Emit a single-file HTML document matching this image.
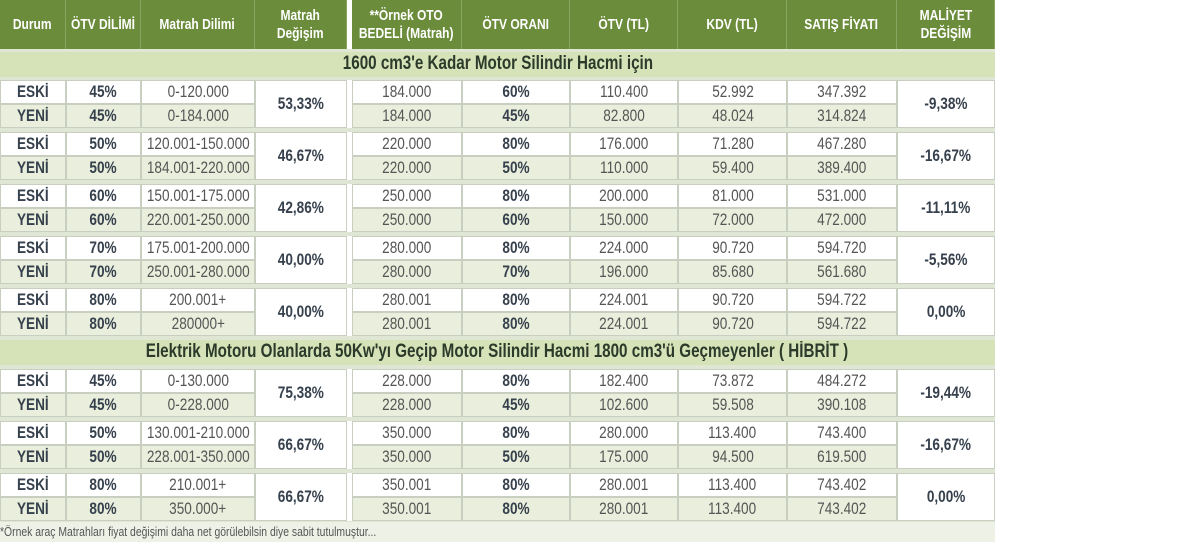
<!DOCTYPE html>
<html><head><meta charset="utf-8"><style>
body{margin:0;width:1200px;height:542px;background:#fff;position:relative;overflow:hidden;font-family:"Liberation Sans",sans-serif;}
.c{position:absolute;display:flex;align-items:center;justify-content:center;box-sizing:border-box;text-align:center;line-height:1.2;white-space:nowrap;}
.c span{display:inline-block;transform:scaleX(0.8);}
.h{background:#6b8c3b;color:#fff;font-weight:bold;font-size:15px;border-right:1px solid #8aa65e;}
.s{background:#d6e3b8;color:#2b3a2a;font-weight:bold;font-size:19px;}
.w{background:#fff;border:1px solid #c8cfc0;}
.g{background:#e9efdc;border:1px solid #c8cfc0;}
.b{font-weight:bold;color:#36414d;font-size:17px;}
.n{color:#555;font-size:17px;}
</style></head><body>
<div id="t" style="position:absolute;left:0;top:0;width:995px;height:542px;background:#dfe6d3"></div>
<script>
var X=[0,66,141,255,347,352,462,570,678,787,897,995];
var H=["Durum","ÖTV DİLİMİ","Matrah Dilimi","Matrah<br>Değişim","","**Örnek OTO<br>BEDELİ (Matrah)","ÖTV ORANI","ÖTV (TL)","KDV (TL)","SATIŞ FİYATI","MALİYET<br>DEĞİŞİM"];
var out="";
function d(cls,x,y,w,h,t,st){out+='<div class="c '+cls+'" style="left:'+x+'px;top:'+y+'px;width:'+w+'px;height:'+h+'px;'+(st||'')+'"><span>'+t+'</span></div>';}
for(var i=0;i<11;i++){ if(i==4){d('',X[4],0,5,49,'','background:#fff');continue;} d('h',X[i],0,X[i+1]-X[i],49,H[i]);}
d('s',0,52,995,25,"1600 cm3'e Kadar Motor Silindir Hacmi için");
d('s',0,340,995,25,"Elektrik Motoru Olanlarda 50Kw'yı Geçip Motor Silindir Hacmi 1800 cm3'ü Geçmeyenler ( HİBRİT )");
var G=[
[80,["45%","0-120.000","184.000","60%","110.400","52.992","347.392"],["45%","0-184.000","184.000","45%","82.800","48.024","314.824"],"53,33%","-9,38%"],
[132,["50%","120.001-150.000","220.000","80%","176.000","71.280","467.280"],["50%","184.001-220.000","220.000","50%","110.000","59.400","389.400"],"46,67%","-16,67%"],
[184,["60%","150.001-175.000","250.000","80%","200.000","81.000","531.000"],["60%","220.001-250.000","250.000","60%","150.000","72.000","472.000"],"42,86%","-11,11%"],
[236,["70%","175.001-200.000","280.000","80%","224.000","90.720","594.720"],["70%","250.001-280.000","280.000","70%","196.000","85.680","561.680"],"40,00%","-5,56%"],
[288,["80%","200.001+","280.001","80%","224.001","90.720","594.722"],["80%","280000+","280.001","80%","224.001","90.720","594.722"],"40,00%","0,00%"],
[369,["45%","0-130.000","228.000","80%","182.400","73.872","484.272"],["45%","0-228.000","228.000","45%","102.600","59.508","390.108"],"75,38%","-19,44%"],
[421,["50%","130.001-210.000","350.000","80%","280.000","113.400","743.400"],["50%","228.001-350.000","350.000","50%","175.000","94.500","619.500"],"66,67%","-16,67%"],
[473,["80%","210.001+","350.001","80%","280.001","113.400","743.402"],["80%","350.000+","350.001","80%","280.001","113.400","743.402"],"66,67%","0,00%"]];
var cols=[1,2,5,6,7,8,9], bold=[1,0,0,1,0,0,0];
G.forEach(function(g){
  var y=g[0];
  [[g[1],'w','ESKİ',0],[g[2],'g','YENİ',24]].forEach(function(r){
    d(r[1]+' b',0,y+r[3],66,24,r[2]);
    r[0].forEach(function(v,k){var c=cols[k];d(r[1]+(bold[k]?' b':' n'),X[c],y+r[3],X[c+1]-X[c],24,v);});
  });
  d('w b',X[3],y,X[4]-X[3],48,g[3],'font-size:17px');
  d('',X[4],y,5,48,'','background:#fff');
  d('w b',X[10],y,X[11]-X[10],48,g[4],'font-size:17px');
});
out+='<div style="position:absolute;left:0;top:522px;width:995px;height:20px;background:#eef2e6;color:#555;font-size:13px;line-height:20px;white-space:nowrap"><span style="display:inline-block;transform:scaleX(0.8);transform-origin:0 50%">*Örnek araç Matrahları fiyat değişimi daha net görülebilsin diye sabit tutulmuştur...</span></div>';
document.getElementById('t').insertAdjacentHTML('afterend',out);
</script>
</body></html>
